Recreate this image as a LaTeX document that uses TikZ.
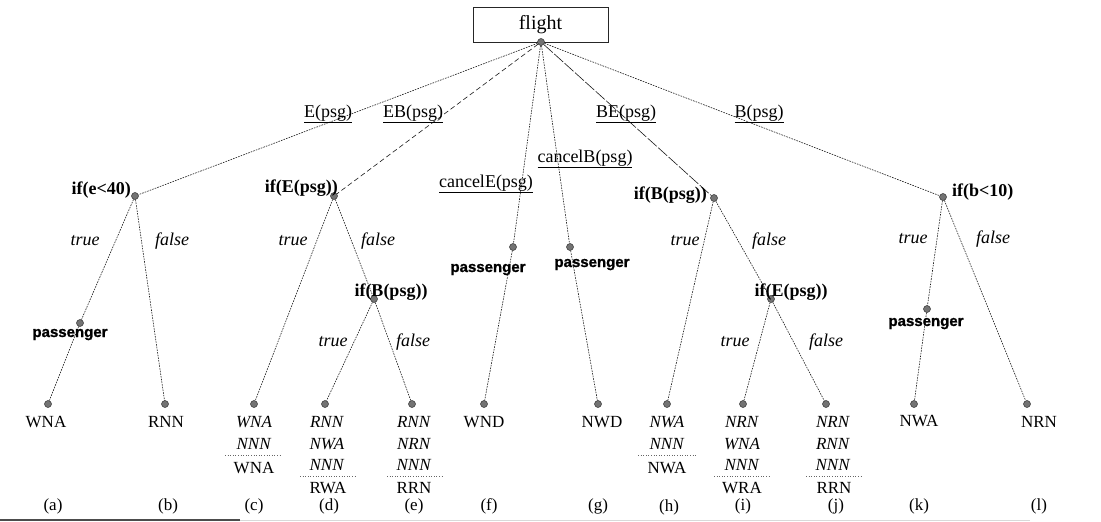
\documentclass[tikz,border=0pt]{standalone}
\usepackage{fontspec}
\setmainfont{Liberation Serif}
\setsansfont{Liberation Sans}
\newfontfamily\passfont{Liberation Sans Bold}[FakeBold=1.2]
\begin{document}
\begin{tikzpicture}[x=1pt,y=-1pt,
  dot/.style={circle, fill=black!55, draw=black!80, line width=0.5pt, inner sep=0pt, minimum size=7pt},
  edge/.style={draw=black!90, line width=0.6pt, dash pattern=on 1.6pt off 1.1pt},
  edgeEB/.style={draw=black!90, line width=0.6pt, dash pattern=on 5pt off 3pt},
  edgeBE/.style={draw=black!90, line width=0.6pt, dash pattern=on 12pt off 2pt},
  lab/.style={inner sep=0pt, anchor=base},
  cond/.style={lab, font=\fontsize{18}{20}\selectfont\bfseries},
  act/.style={lab, font=\fontsize{18}{20}\selectfont},
  tf/.style={lab, font=\fontsize{18}{20}\selectfont\itshape},
  pass/.style={lab, font=\fontsize{15}{17}\selectfont\passfont},
  leaf/.style={lab, font=\fontsize{17}{19}\selectfont},
  sepline/.style={draw=black!60, line width=0.6pt, dotted},
  rootbox/.style={draw=black!85, line width=0.8pt, minimum width=135pt, minimum height=35pt, inner sep=0pt, font=\fontsize{20}{22}\selectfont}
]
\useasboundingbox (0,0) rectangle (1101,522);

% root
\node[rootbox] (root) at (540.5,24.5) {flight};
\node[dot] (r) at (541,42) {};

% level 1
\node[dot] (ife) at (135,196) {};
\node[dot] (ifE) at (334,196) {};
\node[dot] (pE) at (513,247) {};
\node[dot] (pB) at (570,247) {};
\node[dot] (ifB) at (714,198) {};
\node[dot] (ifb) at (943,197) {};

% level 2
\node[dot] (pA) at (80,323) {};
\node[dot] (ifB2) at (374,299) {};
\node[dot] (ifE2) at (771,299) {};
\node[dot] (pK) at (927,309) {};

% leaves
\node[dot] (a) at (48,404) {};
\node[dot] (b) at (165,404) {};
\node[dot] (c) at (254,404) {};
\node[dot] (d) at (325,404) {};
\node[dot] (e) at (412,404) {};
\node[dot] (f) at (484,404) {};
\node[dot] (g) at (598,404) {};
\node[dot] (h) at (667,404) {};
\node[dot] (i) at (743,404) {};
\node[dot] (j) at (826,404) {};
\node[dot] (k) at (914,404) {};
\node[dot] (l) at (1027,404) {};

% edges
\draw[edge] (r) -- (ife);
\draw[edgeEB] (r) -- (ifE);
\draw[edge] (r) -- (pE);
\draw[edge] (r) -- (pB);
\draw[edgeBE] (r) -- (ifB);
\draw[edge] (r) -- (ifb);
\draw[edge] (ife) -- (pA) -- (a);
\draw[edge] (ife) -- (b);
\draw[edge] (ifE) -- (c);
\draw[edge] (ifE) -- (ifB2);
\draw[edge] (ifB2) -- (d);
\draw[edge] (ifB2) -- (e);
\draw[edge] (pE) -- (f);
\draw[edge] (pB) -- (g);
\draw[edge] (ifB) -- (h);
\draw[edge] (ifB) -- (ifE2);
\draw[edge] (ifE2) -- (i);
\draw[edge] (ifE2) -- (j);
\draw[edge] (ifb) -- (pK) -- (k);
\draw[edge] (ifb) -- (l);

% action labels
\node[act] (lE) at (328,117) {\underline{E(psg)}};
\node[act] (lEB) at (413,117) {\underline{EB(psg)}};
\node[act] (lcE) at (486,187) {\underline{cancelE(psg)}};
\node[act] (lcB) at (585,162) {\underline{cancelB(psg)}};
\node[act] (lBE) at (626,117) {\underline{BE(psg)}};
\node[act] (lB) at (759,117) {\underline{B(psg)}};

% condition labels
\node[cond, anchor=base east] (tife) at (131,194) {if(e<40)};
\node[cond, anchor=base east] (tifE) at (338,192) {if(E(psg))};
\node[cond] (tifB2) at (391,296) {if(B(psg))};
\node[cond, anchor=base east] (tifB) at (707,199) {if(B(psg))};
\node[cond] (tifE2) at (791,296) {if(E(psg))};
\node[cond, anchor=base west] (tifb) at (952,196) {if(b<10)};

% passenger labels
\node[pass] (tpA) at (70,337) {passenger};
\node[pass] (tpE) at (488,272) {passenger};
\node[pass] (tpB) at (592,267) {passenger};
\node[pass] (tpK) at (926,326) {passenger};

% true / false
\node[tf] (t1) at (85,245) {true};
\node[tf] (f1) at (172,245) {false};
\node[tf] (t2) at (293,245) {true};
\node[tf] (f2) at (378,245) {false};
\node[tf] (t3) at (333,346) {true};
\node[tf] (f3) at (413,346) {false};
\node[tf] (t4) at (685,245) {true};
\node[tf] (f4) at (769,245) {false};
\node[tf] (t5) at (735,346) {true};
\node[tf] (f5) at (826,346) {false};
\node[tf] (t6) at (913,243) {true};
\node[tf] (f6) at (993,243) {false};

% leaf texts
\node[leaf] (xa) at (46,427) {WNA};
\node[leaf] (xb) at (166,427) {RNN};
\node[leaf] (xf) at (484,427) {WND};
\node[leaf] (xg) at (602,427) {NWD};
\node[leaf] (xk) at (919,426) {NWA};
\node[leaf] (xl) at (1039,427) {NRN};

% (c)
\node[leaf] (xc1) at (254,427) {\textit{WNA}};
\node[leaf] (xc2) at (254,449) {\textit{NNN}};
\draw[sepline] (225,455) -- (282,455);
\node[leaf] (xc3) at (254,473) {WNA};
% (d)
\node[leaf] (xd1) at (327,427) {\textit{RNN}};
\node[leaf] (xd2) at (327,449) {\textit{NWA}};
\node[leaf] (xd3) at (327,470) {\textit{NNN}};
\draw[sepline] (300,476) -- (357,476);
\node[leaf] (xd4) at (328,493) {RWA};
% (e)
\node[leaf] (xe1) at (414,427) {\textit{RNN}};
\node[leaf] (xe2) at (414,449) {\textit{NRN}};
\node[leaf] (xe3) at (414,470) {\textit{NNN}};
\draw[sepline] (387,476) -- (443,476);
\node[leaf] (xe4) at (414,493) {RRN};
% (h)
\node[leaf] (xh1) at (667,427) {\textit{NWA}};
\node[leaf] (xh2) at (667,449) {\textit{NNN}};
\draw[sepline] (638,455) -- (696,455);
\node[leaf] (xh3) at (667,473) {NWA};
% (i)
\node[leaf] (xi1) at (742,427) {\textit{NRN}};
\node[leaf] (xi2) at (742,449) {\textit{WNA}};
\node[leaf] (xi3) at (742,470) {\textit{NNN}};
\draw[sepline] (714,476) -- (770,476);
\node[leaf] (xi4) at (742,493) {WRA};
% (j)
\node[leaf] (xj1) at (833,427) {\textit{NRN}};
\node[leaf] (xj2) at (833,449) {\textit{RNN}};
\node[leaf] (xj3) at (833,470) {\textit{NNN}};
\draw[sepline] (806,476) -- (863,476);
\node[leaf] (xj4) at (834,493) {RRN};

% subfigure labels
\node[leaf] (sa) at (53,510) {(a)};
\node[leaf] (sb) at (168,510) {(b)};
\node[leaf] (sc) at (254,510) {(c)};
\node[leaf] (sd) at (329,510) {(d)};
\node[leaf] (se) at (414,510) {(e)};
\node[leaf] (sf) at (489,510) {(f)};
\node[leaf] (sg) at (598,510) {(g)};
\node[leaf] (sh) at (669,511) {(h)};
\node[leaf] (si) at (743,510) {(i)};
\node[leaf] (sj) at (836,510) {(j)};
\node[leaf] (sk) at (919,510) {(k)};
\node[leaf] (sl) at (1039,510) {(l)};

% bottom rule (scan edge)
\draw[black!70, line width=1.2pt] (0,520) -- (240,520);
\draw[black!15, line width=1pt] (240,520) -- (1030,520);
\end{tikzpicture}
\end{document}
